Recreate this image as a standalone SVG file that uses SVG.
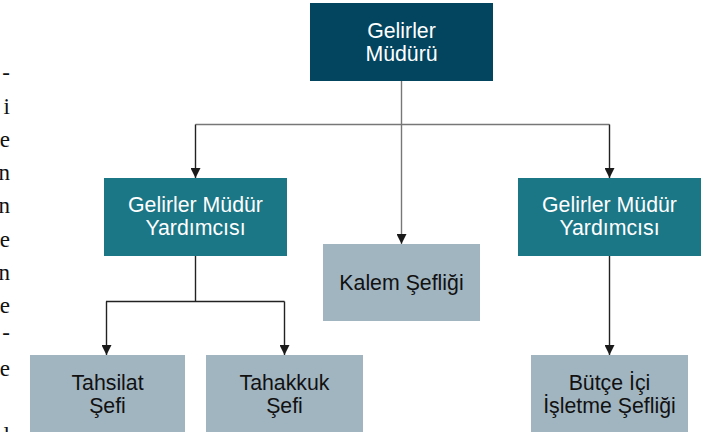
<svg xmlns="http://www.w3.org/2000/svg" width="723" height="432" viewBox="0 0 723 432">
<defs>
<marker id="arr" viewBox="0 0 10 10" refX="10" refY="5" markerWidth="10" markerHeight="10" markerUnits="userSpaceOnUse" orient="auto">
<path d="M0,0 L10,5 L0,10 Z" fill="#1a1a1a"/>
</marker>
<style>
.bx text{font-family:"Liberation Sans",Arial,sans-serif;font-size:21.3px;text-anchor:middle}
.dark rect{fill:#03455f}
.mid rect{fill:#1b7686}
.light rect{fill:#a1b5c1}
.dark text,.mid text{fill:#ffffff}
.light text{fill:#111111}
.side{font-family:"Liberation Serif","Times New Roman",serif;font-size:23px;fill:#111;text-anchor:end}
.c{fill:none;stroke:#222;stroke-width:1.4}
.g{stroke:#777}
</style>
</defs>
<rect width="723" height="432" fill="#ffffff"/>
<g id="side-text">
<text class="side" x="10" y="80">-</text>
<text class="side" x="10" y="114">i</text>
<text class="side" x="10" y="147">e</text>
<text class="side" x="10" y="180">n</text>
<text class="side" x="10" y="213">n</text>
<text class="side" x="10" y="247">e</text>
<text class="side" x="10" y="280">n</text>
<text class="side" x="10" y="313">e</text>
<text class="side" x="10" y="340">-</text>
<text class="side" x="10" y="376">e</text>
<text class="side" x="10" y="443">l</text>
</g>
<g id="connectors">
<path class="c g" d="M401.5,81 V124.5"/>
<path class="c g" d="M195.5,124.5 H609.5"/>
<path class="c" d="M195.5,124.5 V178" marker-end="url(#arr)"/>
<path class="c" d="M609.5,124.5 V178" marker-end="url(#arr)"/>
<path class="c g" d="M401.5,124.5 V244" marker-end="url(#arr)"/>
<path class="c" d="M195.5,256 V301.5"/>
<path class="c" d="M106,301.5 H284.5"/>
<path class="c" d="M106.5,301.5 V355" marker-end="url(#arr)"/>
<path class="c" d="M284.5,301.5 V355" marker-end="url(#arr)"/>
<path class="c" d="M609.5,256 V355" marker-end="url(#arr)"/>
</g>
<g id="gelirler-muduru" class="bx dark">
<rect x="310" y="3" width="183" height="78"/>
<text x="401.5" y="37.5">Gelirler</text>
<text x="401.5" y="60.5">Müdürü</text>
</g>
<g id="yardimci-sol" class="bx mid">
<rect x="104" y="178" width="183" height="78"/>
<text x="195.5" y="212">Gelirler Müdür</text>
<text x="195.5" y="235">Yardımcısı</text>
</g>
<g id="yardimci-sag" class="bx mid">
<rect x="518" y="178" width="183" height="78"/>
<text x="609.5" y="212">Gelirler Müdür</text>
<text x="609.5" y="235">Yardımcısı</text>
</g>
<g id="kalem-sefligi" class="bx light">
<rect x="323" y="244" width="157" height="77"/>
<text x="401.5" y="290">Kalem Şefliği</text>
</g>
<g id="tahsilat-sefi" class="bx light">
<rect x="30" y="355" width="155" height="80"/>
<text x="107.5" y="390">Tahsilat</text>
<text x="107.5" y="413">Şefi</text>
</g>
<g id="tahakkuk-sefi" class="bx light">
<rect x="206" y="355" width="157" height="80"/>
<text x="284.5" y="390">Tahakkuk</text>
<text x="284.5" y="413">Şefi</text>
</g>
<g id="butce-ici" class="bx light">
<rect x="531" y="355" width="157" height="80"/>
<text x="609.5" y="390">Bütçe İçi</text>
<text x="609.5" y="413">İşletme Şefliği</text>
</g>
</svg>
